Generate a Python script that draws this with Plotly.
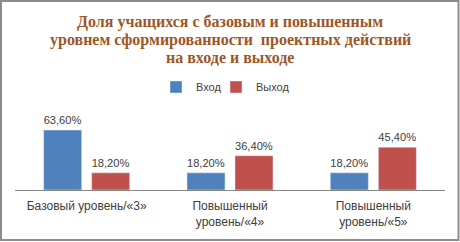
import plotly.graph_objects as go

categories = ["Базовый уровень/«3»", "Повышенный<br>уровень/«4»", "Повышенный<br>уровень/«5»"]
series_names = ["Вход", "Выход"]
vhod = [63.6, 18.2, 18.2]
vyhod = [18.2, 36.4, 45.4]
colors = ["#4F81BD", "#C0504D"]
title_lines = ["Доля учащихся с базовым и повышенным",
               "уровнем сформированности  проектных действий",
               "на входе и выходе"]

W, H = 460, 242
L, R, T, B = 15, 15, 124, 52
pw, ph = W - L - R, H - T - B

def fmt(v):
    return f"{v:.2f}%".replace(".", ",")

fig = go.Figure()
for k, (name, vals, col) in enumerate(zip(series_names, [vhod, vyhod], colors)):
    fig.add_trace(go.Bar(
        x=categories, y=vals, name=name, marker_color=col,
        text=[fmt(v) for v in vals], textposition="outside",
        textfont=dict(family="Liberation Sans", size=12, color="#404040"),
        cliponaxis=False, legend="legend" if k == 0 else "legend2",
        showlegend=True,
    ))

def px_x(p):
    return (p - L) / pw

def px_y(p):
    return (H - B - p) / ph

annotations = []
for i, line in enumerate(title_lines):
    annotations.append(dict(
        text="<b>" + line + "</b>", xref="paper", yref="paper",
        x=0.5, xanchor="center", y=px_y(22 + 17.6 * i), yanchor="middle",
        showarrow=False,
        font=dict(family="Liberation Serif", size=16, color="#9E5626"),
    ))

leg_common = dict(
    orientation="h", yanchor="middle", y=px_y(87), xanchor="left",
    font=dict(family="Liberation Sans", size=11, color="#404040"),
    itemwidth=30, bgcolor="rgba(0,0,0,0)",
)

fig.update_layout(
    width=W, height=H,
    margin=dict(l=L, r=R, t=T, b=B, autoexpand=False),
    paper_bgcolor="white", plot_bgcolor="white",
    showlegend=True,
    barmode="group", bargap=0.33, bargroupgap=0.208,
    annotations=annotations,
    legend=dict(x=px_x(156), **leg_common),
    legend2=dict(x=px_x(216), **leg_common),
    xaxis=dict(
        showline=True, linecolor="#868686", linewidth=1, ticks="",
        tickfont=dict(family="Liberation Sans", size=12, color="#404040"),
        showgrid=False, fixedrange=True, automargin=False, ticklabelstandoff=5,
    ),
    yaxis=dict(range=[0, 70], visible=False, showgrid=False, fixedrange=True,
               automargin=False),
    shapes=[dict(
        type="rect", xref="paper", yref="paper",
        x0=px_x(1), x1=px_x(458.5), y0=px_y(240), y1=px_y(1),
        line=dict(color="#8C8C8C", width=2), fillcolor="rgba(0,0,0,0)",
        layer="above",
    )],
)

fig.write_html("out.html", config={"displayModeBar": False},
               post_script="document.body.style.margin='0';document.body.style.overflow='hidden';")
